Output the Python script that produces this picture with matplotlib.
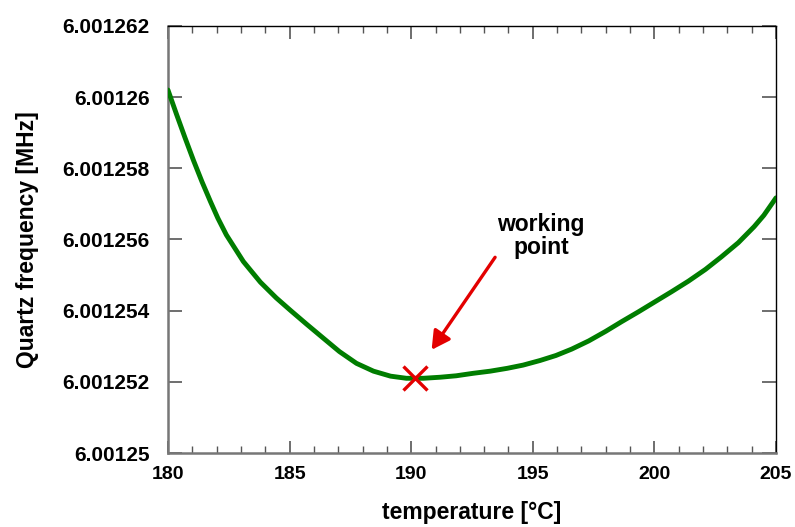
import matplotlib
matplotlib.use("Agg")
import matplotlib.pyplot as plt
from matplotlib.ticker import MultipleLocator, FixedLocator, FuncFormatter

plt.rcParams['font.family'] = ['Liberation Sans', 'DejaVu Sans']
plt.rcParams['font.weight'] = 'bold'

# temperature sweep [°C] and quartz frequency (offset from 6.00125 MHz, in Hz)
temps = [180.0, 180.35, 180.7, 181.05, 181.4, 181.75, 182.05, 182.4, 183.1,
         183.8, 184.45, 185.05, 185.7, 186.4, 187.05, 187.75, 188.45, 189.15,
         189.8, 190.5, 191.2, 191.85, 192.55, 193.25, 193.95, 194.6, 195.3,
         195.95, 196.6, 197.3, 198.0, 198.65, 199.35, 200.0, 200.7, 201.4,
         202.1, 202.75, 203.45, 204.1, 204.5, 205.0]
freq_offset = [10.2, 9.52, 8.86, 8.22, 7.62, 7.06, 6.6, 6.13, 5.38,
               4.80, 4.36, 4.0, 3.62, 3.22, 2.85, 2.52, 2.30, 2.16,
               2.10, 2.10, 2.13, 2.17, 2.24, 2.30, 2.38, 2.47, 2.60,
               2.74, 2.92, 3.15, 3.42, 3.69, 3.97, 4.24, 4.53, 4.83,
               5.16, 5.51, 5.91, 6.36, 6.68, 7.17]
freqs = [6.00125 + d * 1e-6 for d in freq_offset]

work_t = 190.15
work_f = 6.0012521
arrow_tail = (193.45, 6.0012555)
arrow_tip = (190.84, 6.0012529)
label_pos = (195.34, 6.0012561)

yticks = [6.00125, 6.001252, 6.001254, 6.001256, 6.001258, 6.00126, 6.001262]

fig = plt.figure(figsize=(7.95, 5.27), dpi=100)
ax = fig.add_axes([0.2113, 0.1404, 0.7648, 0.8103])

ax.plot(temps, freqs, color='#007d00', lw=3.5, solid_capstyle='round',
        solid_joinstyle='round', zorder=3)
ax.plot([work_t], [work_f], marker='x', color='#e30000', ms=17, mew=2.4, zorder=4)
ax.annotate('', xy=arrow_tip, xytext=arrow_tail,
            arrowprops=dict(arrowstyle='-|>,head_length=0.55,head_width=0.3',
                            mutation_scale=20, color='#e30000', lw=2.4,
                            shrinkA=0, shrinkB=0))
ax.text(label_pos[0], label_pos[1], 'working\npoint', ha='center', va='center',
        fontsize=16.5, fontweight='bold', linespacing=1.0)

ax.set_xlim(180, 205)
ax.set_ylim(6.00125, 6.001262)
ax.xaxis.set_major_locator(MultipleLocator(5))
ax.xaxis.set_minor_locator(MultipleLocator(1))
ax.yaxis.set_major_locator(FixedLocator(yticks))
ax.yaxis.set_major_formatter(FuncFormatter(lambda v, p: ('%.6f' % v).rstrip('0')))
ax.xaxis.set_major_formatter(FuncFormatter(lambda v, p: '%d' % v))

ax.tick_params(axis='both', which='both', direction='in', top=True, right=True,
               color='#555555')
ax.tick_params(axis='x', which='major', length=9, width=1.2, pad=9, labelsize=14)
ax.tick_params(axis='x', which='minor', length=5, width=1.0)
ax.tick_params(axis='y', which='major', length=10, width=1.2, pad=13, labelsize=15)
for lab in ax.get_xticklabels() + ax.get_yticklabels():
    lab.set_fontweight('bold')

for side in ('left', 'bottom'):
    ax.spines[side].set_color('#777777')
    ax.spines[side].set_linewidth(1.8)
for side in ('top', 'right'):
    ax.spines[side].set_color('black')
    ax.spines[side].set_linewidth(1.0)

ax.set_xlabel('temperature [°C]', fontsize=16.5, fontweight='bold', labelpad=13)
ax.set_ylabel('Quartz frequency [MHz]', fontsize=16.5, fontweight='bold', labelpad=17)

fig.savefig('out.png', dpi=100)
